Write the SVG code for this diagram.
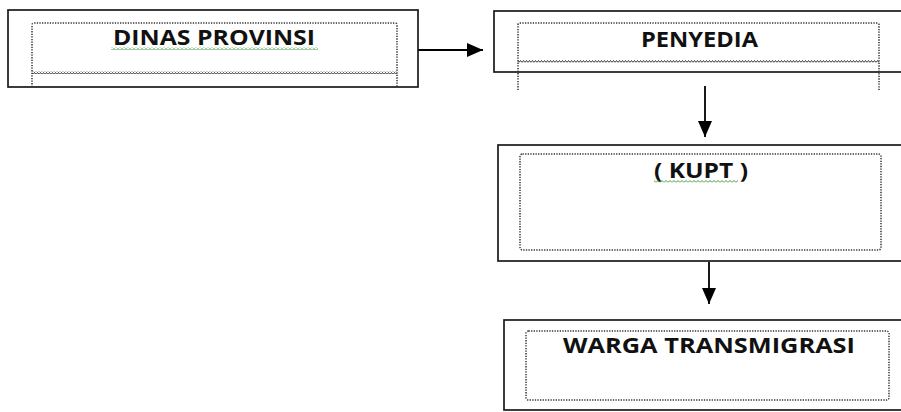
<svg xmlns="http://www.w3.org/2000/svg" width="901" height="412" viewBox="0 0 901 412">
<style>
.outer{fill:#fff;stroke:#1a1a1a;stroke-width:1.7}
.inner{fill:none;stroke:#333;stroke-width:1.5;stroke-dasharray:1.3 1.3}
.lbl{font-family:"Open Sans","Liberation Sans",sans-serif;font-weight:bold;font-size:22px;fill:#111}
.conn{stroke:#000;stroke-width:1.8;fill:none}
</style>
<defs>
<marker id="ah" viewBox="0 0 16 14" refX="16" refY="7" markerWidth="16" markerHeight="14" orient="auto" markerUnits="userSpaceOnUse">
<path d="M0,0 L16,7 L0,14 Z" fill="#000"/>
</marker>
<pattern id="wave" width="3" height="3" patternUnits="userSpaceOnUse">
<path d="M0,2.5 L1.5,0.5 L3,2.5" fill="none" stroke="#333" stroke-width="1"/>
</pattern>
<pattern id="gwave" width="4" height="3" patternUnits="userSpaceOnUse">
<path d="M0,2.5 L2,0.5 L4,2.5" fill="none" stroke="#3a9a3a" stroke-width="1"/>
</pattern>
</defs>
<rect width="901" height="412" fill="#fff"/>
<g id="connectors">
<line class="conn" x1="418" y1="50" x2="483" y2="50" marker-end="url(#ah)"/>
<line class="conn" x1="705" y1="86" x2="705" y2="137" marker-end="url(#ah)"/>
<line class="conn" x1="709" y1="262" x2="709" y2="304" marker-end="url(#ah)"/>
</g>
<g id="dinas-provinsi">
<rect class="outer" x="8" y="10" width="410" height="77"/>
<path class="inner" d="M32,87 V25 Q32,23 34,23 H395 Q397,23 397,25 V87"/>
<rect x="32" y="71" width="365" height="3" fill="url(#wave)"/>
<text class="lbl" x="113" y="45" textLength="202" lengthAdjust="spacingAndGlyphs">DINAS  PROVINSI</text>
<rect x="111" y="47" width="207" height="3" fill="url(#gwave)"/>
</g>
<g id="penyedia">
<rect class="outer" x="494" y="11" width="420" height="61"/>
<path class="inner" d="M518,90 V25 Q518,23 520,23 H877 Q879,23 879,25 V90"/>
<rect x="518" y="60" width="361" height="3" fill="url(#wave)"/>
<text class="lbl" x="641" y="47" textLength="117" lengthAdjust="spacingAndGlyphs">PENYEDIA</text>
</g>
<g id="kupt">
<rect class="outer" x="498" y="145" width="420" height="116"/>
<rect class="inner" x="520" y="154" width="361" height="96" rx="2.5"/>
<text class="lbl" x="654" y="178" textLength="94" lengthAdjust="spacingAndGlyphs">( KUPT )</text>
<rect x="654" y="180" width="84" height="3" fill="url(#gwave)"/>
</g>
<g id="warga-transmigrasi">
<rect class="outer" x="504" y="320" width="420" height="90"/>
<rect class="inner" x="526" y="331" width="363" height="69" rx="2.5"/>
<text class="lbl" x="563" y="353" textLength="292" lengthAdjust="spacingAndGlyphs">WARGA TRANSMIGRASI</text>
</g>
</svg>
